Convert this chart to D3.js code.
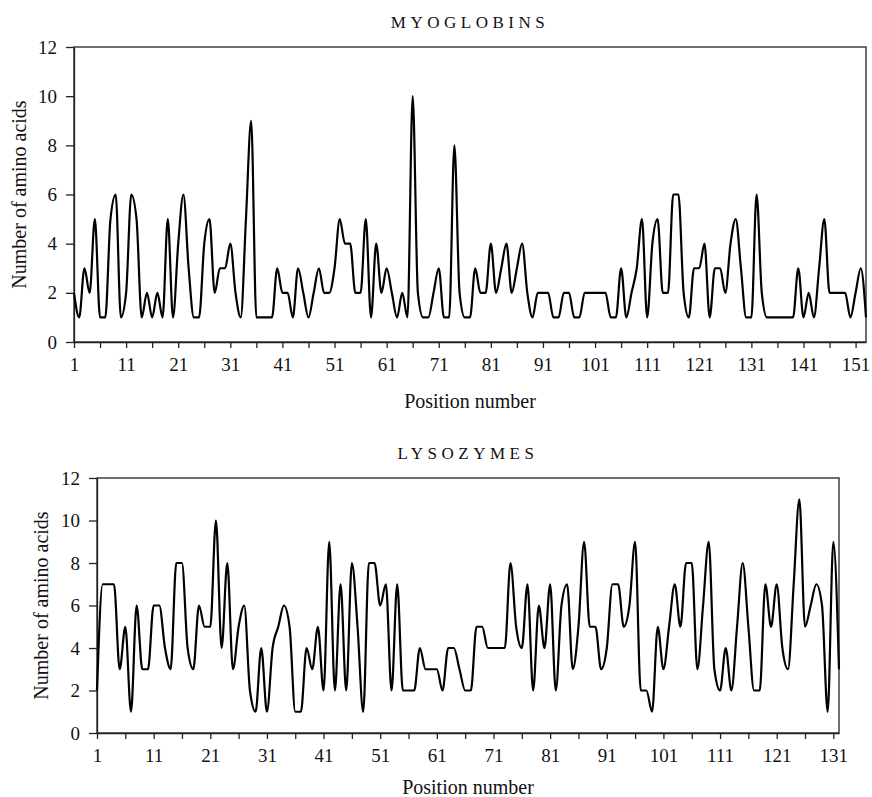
<!DOCTYPE html>
<html>
<head>
<meta charset="utf-8">
<script src="https://cdn.jsdelivr.net/npm/d3@7"></script>
<style>
  body { margin: 0; background: #fff; }
  text { font-family: "Liberation Serif", "DejaVu Serif", serif; fill: #111; }
  .line-path { fill: none; stroke: #000; stroke-width: 2.2px; }
  .axis path, .axis line { stroke: #222; stroke-width: 1.3px; }
  .frame { fill: none; stroke: #222; stroke-width: 1.3px; }
</style>
</head>
<body>
<svg id="chart" width="872" height="797"></svg>
<script>
// amino acid counts per position
const myoglobins = [
  2, 1, 3, 2, 5, 1, 1, 5, 6, 1,
  2, 6, 5, 1, 2, 1, 2, 1, 5, 1,
  4, 6, 3, 1, 1, 4, 5, 2, 3, 3,
  4, 2, 1, 5, 9, 1, 1, 1, 1, 3,
  2, 2, 1, 3, 2, 1, 2, 3, 2, 2,
  3, 5, 4, 4, 2, 2, 5, 1, 4, 2,
  3, 2, 1, 2, 1, 10, 2, 1, 1, 2,
  3, 1, 1, 8, 2, 1, 1, 3, 2, 2,
  4, 2, 3, 4, 2, 3, 4, 2, 1, 2,
  2, 2, 1, 1, 2, 2, 1, 1, 2, 2,
  2, 2, 2, 1, 1, 3, 1, 2, 3, 5,
  1, 4, 5, 2, 2, 6, 6, 2, 1, 3,
  3, 4, 1, 3, 3, 2, 4, 5, 3, 1,
  1, 6, 2, 1, 1, 1, 1, 1, 1, 3,
  1, 2, 1, 3, 5, 2, 2, 2, 2, 1,
  2, 3, 1
];
const lysozymes = [
  2, 7, 7, 7, 3, 5, 1, 6, 3, 3,
  6, 6, 4, 3, 8, 8, 4, 3, 6, 5,
  5, 10, 4, 8, 3, 5, 6, 2, 1, 4,
  1, 4, 5, 6, 5, 1, 1, 4, 3, 5,
  2, 9, 2, 7, 2, 8, 5, 1, 8, 8,
  6, 7, 2, 7, 2, 2, 2, 4, 3, 3,
  3, 2, 4, 4, 3, 2, 2, 5, 5, 4,
  4, 4, 4, 8, 5, 4, 7, 2, 6, 4,
  7, 2, 6, 7, 3, 5, 9, 5, 5, 3,
  4, 7, 7, 5, 6, 9, 2, 2, 1, 5,
  3, 5, 7, 5, 8, 8, 3, 6, 9, 3,
  2, 4, 2, 5, 8, 5, 2, 2, 7, 5,
  7, 4, 3, 7, 11, 5, 6, 7, 6, 1,
  9, 3
];
const yTicks = [0, 2, 4, 6, 8, 10, 12];
const xLabelStep = 10;
const xTickStep = 5;
const yAxisLabel = 'Number of amino acids';
const xAxisLabel = 'Position number';

const svg = d3.select('#chart');

function drawPanel(values, title, box) {
  const data = values.map((v, i) => ({pos: i + 1, count: v}));
  const n = data.length;
  const innerWidth = box.right - box.left;
  const innerHeight = box.bottom - box.top;

  const g = svg.append('g')
    .attr('transform', `translate(${box.left}, ${box.top})`);

  const xScale = d3.scaleLinear().domain([1, n]).range([0, innerWidth]);
  const yScale = d3.scaleLinear().domain([0, 12]).range([innerHeight, 0]);

  const xTickValues = d3.range(1, n + 1, xTickStep);
  const xAxis = d3.axisBottom(xScale)
    .tickValues(xTickValues)
    .tickSize(6)
    .tickSizeOuter(0)
    .tickPadding(10)
    .tickFormat(d => ((d - 1) % xLabelStep === 0 ? d : ''));
  g.append('g')
    .attr('class', 'axis')
    .attr('transform', `translate(0, ${innerHeight})`)
    .call(xAxis)
    .selectAll('text')
      .style('font-size', '19px');

  const yAxis = d3.axisLeft(yScale)
    .tickValues(yTicks)
    .tickSize(8)
    .tickSizeOuter(0)
    .tickPadding(9);
  g.append('g')
    .attr('class', 'axis')
    .call(yAxis)
    .selectAll('text')
      .style('font-size', '19px');

  // box round the plot
  g.append('rect')
    .attr('class', 'frame')
    .attr('width', innerWidth)
    .attr('height', innerHeight);

  const lineGenerator = d3.line()
    .x(d => xScale(d.pos))
    .y(d => yScale(d.count))
    .curve(d3.curveMonotoneX);

  g.append('path')
    .datum(data)
    .attr('class', 'line-path')
    .attr('d', lineGenerator);

  svg.append('text')
    .attr('x', box.left + innerWidth / 2)
    .attr('y', box.titleY)
    .attr('text-anchor', 'middle')
    .style('font-size', '17px')
    .style('letter-spacing', '4.5px')
    .text(title);

  svg.append('text')
    .attr('x', box.left + innerWidth / 2)
    .attr('y', box.bottom + box.xLabelDy)
    .attr('text-anchor', 'middle')
    .style('font-size', '20px')
    .text(xAxisLabel);

  svg.append('text')
    .attr('transform', `translate(${box.yLabelX}, ${box.top + innerHeight / 2}) rotate(-90)`)
    .attr('text-anchor', 'middle')
    .style('font-size', '20px')
    .text(yAxisLabel);
}

drawPanel(myoglobins, 'MYOGLOBINS',
  {left: 74, right: 866, top: 47, bottom: 342, titleY: 28, xLabelDy: 66, yLabelX: 26});
drawPanel(lysozymes, 'LYSOZYMES',
  {left: 97, right: 839, top: 478, bottom: 733, titleY: 459, xLabelDy: 61, yLabelX: 48});
</script>
</body>
</html>
